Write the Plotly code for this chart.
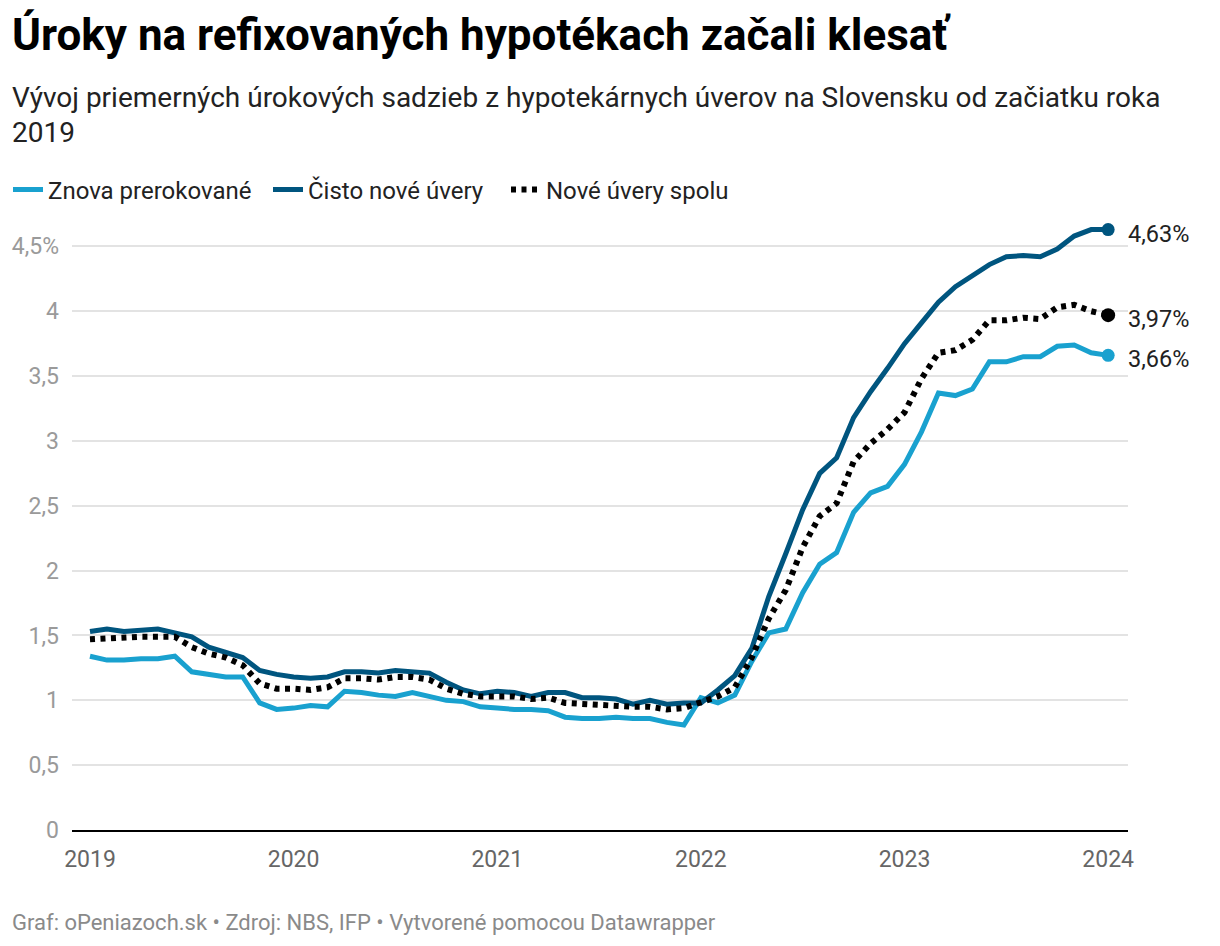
import plotly.graph_objects as go

# ---- data (monthly, Jan 2019 .. Jan 2024) ----
month_index = list(range(61))
year_ticks = [0, 12, 24, 36, 48, 60]
year_labels = ["2019", "2020", "2021", "2022", "2023", "2024"]

refix = [1.34, 1.31, 1.31, 1.32, 1.32, 1.34, 1.22, 1.20, 1.18, 1.18,
         0.98, 0.93, 0.94, 0.96, 0.95, 1.07, 1.06, 1.04, 1.03, 1.06,
         1.03, 1.00, 0.99, 0.95, 0.94, 0.93, 0.93, 0.92, 0.87, 0.86,
         0.86, 0.87, 0.86, 0.86, 0.83, 0.81, 1.02, 0.98, 1.04, 1.30,
         1.52, 1.55, 1.83, 2.05, 2.14, 2.45, 2.60, 2.65, 2.82, 3.07,
         3.37, 3.35, 3.40, 3.61, 3.61, 3.65, 3.65, 3.73, 3.74, 3.68, 3.66]

nove = [1.53, 1.55, 1.53, 1.54, 1.55, 1.52, 1.49, 1.41, 1.37, 1.33,
        1.23, 1.20, 1.18, 1.17, 1.18, 1.22, 1.22, 1.21, 1.23, 1.22,
        1.21, 1.14, 1.08, 1.05, 1.07, 1.06, 1.03, 1.06, 1.06, 1.02,
        1.02, 1.01, 0.97, 1.00, 0.97, 0.98, 0.98, 1.08, 1.19, 1.40,
        1.80, 2.13, 2.47, 2.75, 2.87, 3.18, 3.38, 3.56, 3.75, 3.91,
        4.07, 4.19, 4.27, 4.36, 4.42, 4.43, 4.42, 4.48, 4.58, 4.63, 4.63]

spolu = [1.47, 1.48, 1.48, 1.49, 1.49, 1.49, 1.41, 1.36, 1.33, 1.27,
         1.13, 1.09, 1.09, 1.08, 1.10, 1.17, 1.17, 1.16, 1.18, 1.18,
         1.16, 1.09, 1.05, 1.03, 1.03, 1.03, 1.01, 1.02, 0.98, 0.97,
         0.97, 0.96, 0.95, 0.95, 0.93, 0.94, 0.99, 1.03, 1.10, 1.33,
         1.63, 1.85, 2.18, 2.42, 2.52, 2.84, 2.98, 3.09, 3.22, 3.48,
         3.68, 3.70, 3.78, 3.93, 3.93, 3.95, 3.94, 4.03, 4.05, 4.00, 3.97]

y_ticks = [0, 0.5, 1, 1.5, 2, 2.5, 3, 3.5, 4, 4.5]
y_labels = ["0", "0,5", "1", "1,5", "2", "2,5", "3", "3,5", "4", "4,5%"]

names = ["Znova prerokované", "Čisto nové úvery", "Nové úvery spolu"]
end_labels = ["3,66%", "4,63%", "3,97%"]

LIGHT = "#19a1cf"
DARK = "#00557f"
BLACK = "#000000"
FONT = "Roboto"

fig = go.Figure()

fig.add_trace(go.Scatter(x=month_index, y=refix, mode="lines", name=names[0],
                         line=dict(color=LIGHT, width=5), legend="legend"))
fig.add_trace(go.Scatter(x=month_index, y=nove, mode="lines", name=names[1],
                         line=dict(color=DARK, width=5), legend="legend2"))
fig.add_trace(go.Scatter(x=month_index, y=spolu, mode="lines", name=names[2],
                         line=dict(color=BLACK, width=6, dash="5px,5.5px"), legend="legend3"))

# end markers
for series, col, size in [(refix, LIGHT, 13), (nove, DARK, 13), (spolu, BLACK, 14)]:
    fig.add_trace(go.Scatter(x=[month_index[-1]], y=[series[-1]], mode="markers",
                             marker=dict(color=col, size=size), showlegend=False,
                             hoverinfo="skip"))

# end labels
for series, txt in [(refix, end_labels[0]), (nove, end_labels[1]), (spolu, end_labels[2])]:
    fig.add_annotation(x=month_index[-1], y=series[-1], text=txt, showarrow=False,
                       xanchor="left", yanchor="middle", xshift=18, yshift=-4,
                       font=dict(family=FONT, size=23.5, color="#222222"))

# title, subtitle, footer
XL = -0.0587
fig.add_annotation(xref="paper", yref="paper", x=XL, y=1.2906, xanchor="left", yanchor="middle",
                   text="<b>Úroky na refixovaných hypotékach začali klesať</b>", showarrow=False,
                   font=dict(family=FONT, size=44, color="#000000"))
fig.add_annotation(xref="paper", yref="paper", x=XL, y=1.1891, xanchor="left", yanchor="middle",
                   text="Vývoj priemerných úrokových sadzieb z hypotekárnych úverov na Slovensku od začiatku roka",
                   showarrow=False, font=dict(family=FONT, size=28, color="#222222"))
fig.add_annotation(xref="paper", yref="paper", x=XL, y=1.1323, xanchor="left", yanchor="middle",
                   text="2019",
                   showarrow=False, font=dict(family=FONT, size=28, color="#222222"))
fig.add_annotation(xref="paper", yref="paper", x=XL, y=-0.1494, xanchor="left", yanchor="middle",
                   text="Graf: oPeniazoch.sk • Zdroj: NBS, IFP • Vytvorené pomocou Datawrapper",
                   showarrow=False, font=dict(family=FONT, size=22, color="#8a8a8a"))

legend_common = dict(orientation="h", xref="container", yref="container",
                     y=(938 - 182) / 938, xanchor="left", yanchor="middle",
                     font=dict(family=FONT, size=24, color="#222222"),
                     itemwidth=30, bgcolor="rgba(0,0,0,0)")

fig.update_layout(
    width=1212, height=938,
    margin=dict(l=64, r=92, t=206, b=116, autoexpand=False),
    paper_bgcolor="white", plot_bgcolor="white",
    font=dict(family=FONT),
    showlegend=True,
    legend=dict(x=0.0, **legend_common),
    legend2=dict(x=260 / 1212, **legend_common),
    legend3=dict(x=498 / 1212, **legend_common),
    xaxis=dict(range=[-1.06, 61.17], tickvals=year_ticks, ticktext=year_labels,
               showgrid=False, zeroline=False, showline=True, linecolor="#000000", linewidth=2,
               ticks="", ticklabelstandoff=7,
               tickfont=dict(family=FONT, size=23, color="#666666"), fixedrange=True),
    yaxis=dict(range=[0, 4.75], tickvals=y_ticks, ticktext=y_labels,
               showgrid=True, gridcolor="#e3e3e3", gridwidth=1.5, zeroline=False,
               ticks="", ticklabelstandoff=12,
               tickfont=dict(family=FONT, size=23, color="#9a9a9a"), fixedrange=True),
)

fig.write_html("out.html")
